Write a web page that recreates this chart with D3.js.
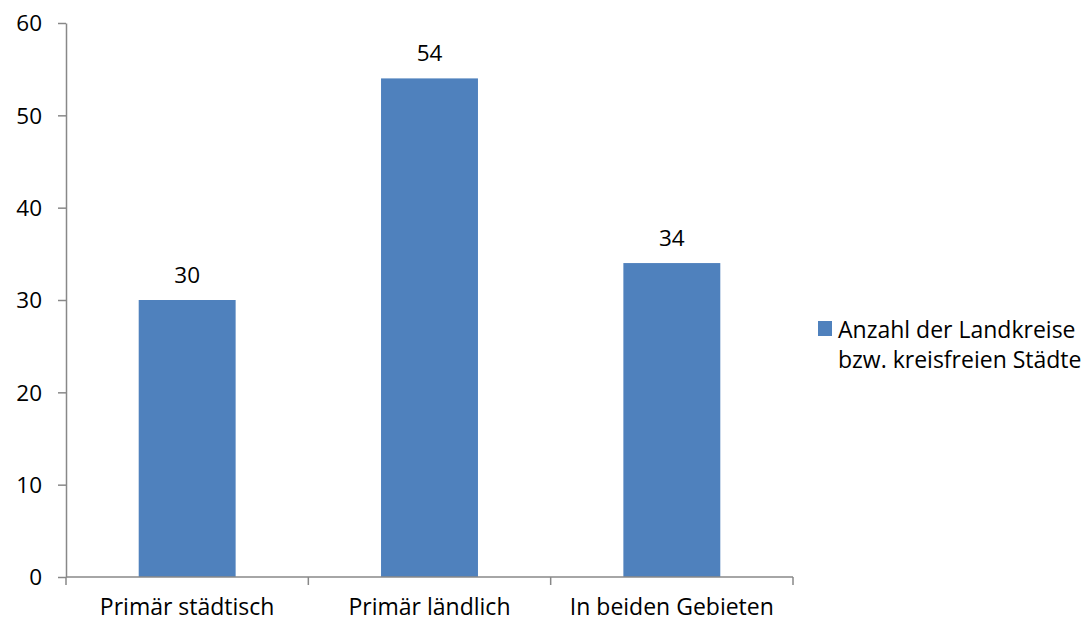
<!DOCTYPE html>
<html>
<head>
<meta charset="utf-8">
<script src="https://cdn.jsdelivr.net/npm/d3@7"></script>
<style>
  html, body { margin: 0; padding: 0; background: #fff; }
  svg text { font-family: "Open Sans", "Noto Sans", sans-serif; fill: #000; }
</style>
</head>
<body>
<svg id="chart" width="1090" height="622"></svg>
<script>
const categories = ["Primär städtisch", "Primär ländlich", "In beiden Gebieten"];
const values = [30, 54, 34];
const yTicks = [0, 10, 20, 30, 40, 50, 60];
const seriesName = ["Anzahl der Landkreise", "bzw. kreisfreien Städte"];

const svg = d3.select("#chart");
const plot = { left: 66, right: 793, top: 23, bottom: 577 };
const axisColor = "#888888";
const barColor = "#4F81BD";
const fontSize = 22.5;
const catFontSize = 23;

const x = d3.scaleBand().domain(categories).range([plot.left, plot.right]).padding(0);
const y = d3.scaleLinear().domain([0, 60]).range([plot.bottom, plot.top]);

// Bars occupy the middle 40% of each category band
const barW = x.bandwidth() * 0.4;
svg.append("g").selectAll("rect").data(categories).join("rect")
  .attr("x", (d) => x(d) + (x.bandwidth() - barW) / 2)
  .attr("y", (d, i) => y(values[i]))
  .attr("width", barW)
  .attr("height", (d, i) => y(0) - y(values[i]))
  .attr("fill", barColor);

// Value labels above the bars
svg.append("g").selectAll("text").data(categories).join("text")
  .attr("x", (d) => x(d) + x.bandwidth() / 2)
  .attr("y", (d, i) => y(values[i]) - 17)
  .attr("text-anchor", "middle")
  .style("font-size", fontSize + "px")
  .text((d, i) => values[i]);

// Y axis
const yAxis = svg.append("g")
  .attr("transform", `translate(${plot.left},0)`)
  .call(d3.axisLeft(y).tickValues(yTicks).tickSize(8).tickPadding(16).tickSizeOuter(0));
yAxis.select(".domain").attr("stroke", axisColor).attr("stroke-width", 1.5);
yAxis.selectAll(".tick line").attr("stroke", axisColor).attr("stroke-width", 1.5);
yAxis.selectAll(".tick text").style("font-size", fontSize + "px").attr("dy", "0.35em");

// X axis with tick marks at band boundaries
const xAxisG = svg.append("g").attr("transform", `translate(0,${plot.bottom})`);
xAxisG.append("line")
  .attr("x1", plot.left).attr("x2", plot.right)
  .attr("stroke", axisColor).attr("stroke-width", 1.5);
const boundaries = categories.map((d) => x(d)).concat([plot.right]);
xAxisG.selectAll("line.tick").data(boundaries).join("line")
  .attr("class", "tick")
  .attr("x1", (d) => d).attr("x2", (d) => d)
  .attr("y1", 0).attr("y2", 8)
  .attr("stroke", axisColor).attr("stroke-width", 1.5);
xAxisG.selectAll("text").data(categories).join("text")
  .attr("x", (d) => x(d) + x.bandwidth() / 2)
  .attr("y", 38)
  .attr("text-anchor", "middle")
  .style("font-size", catFontSize + "px")
  .text((d) => d);

// Legend
const legend = svg.append("g").attr("transform", "translate(818,321)");
legend.append("rect").attr("width", 14).attr("height", 15).attr("fill", barColor);
legend.selectAll("text").data(seriesName).join("text")
  .attr("x", 20)
  .attr("y", (d, i) => 17 + i * 30)
  .style("font-size", catFontSize + "px")
  .text((d) => d);
</script>
</body>
</html>
